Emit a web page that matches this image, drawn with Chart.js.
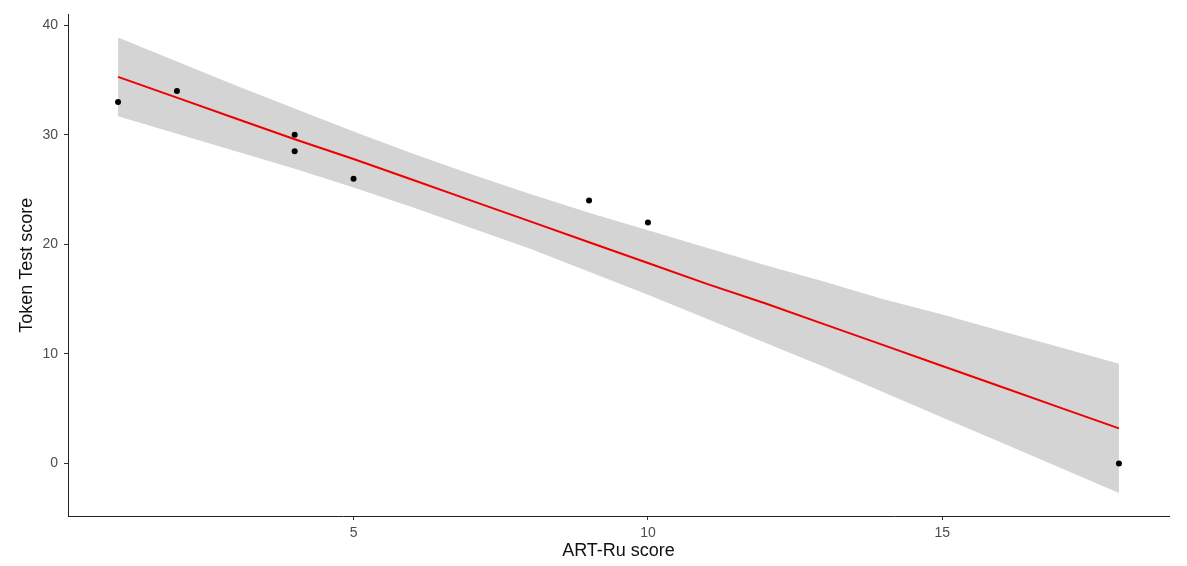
<!DOCTYPE html>
<html>
<head>
<meta charset="utf-8">
<script src="https://cdn.jsdelivr.net/npm/chart.js@4"></script>
<style>
  body { margin: 0; background: #fff; }
  canvas { display: block; }
</style>
</head>
<body>
<canvas id="myChart" width="1187" height="566"></canvas>
<script>
// observed scores
const artRu = [1, 2, 4, 4, 5, 9, 10, 18];
const tokenTest = [33, 34, 30, 28.5, 26, 24, 22, 0];

// fitted line and its band
const fitX = [1, 2, 3, 4, 5, 6, 7, 8, 9, 10, 11, 12, 13, 14, 15, 16, 17, 18];
const fitY = [35.3, 33.4, 31.5, 29.6, 27.8, 25.9, 24.0, 22.1, 20.2, 18.3, 16.4, 14.6, 12.7, 10.8, 8.9, 7.0, 5.1, 3.2];
const bandLow = [31.7, 30.1, 28.5, 26.9, 25.2, 23.4, 21.5, 19.6, 17.5, 15.4, 13.2, 11.0, 8.8, 6.5, 4.2, 1.9, -0.4, -2.7];
const bandHigh = [38.9, 36.7, 34.5, 32.4, 30.3, 28.3, 26.4, 24.6, 22.9, 21.3, 19.7, 18.1, 16.6, 15.0, 13.6, 12.1, 10.6, 9.1];

// tick labels
const xTicks = [5, 10, 15];
const yTicks = [0, 10, 20, 30, 40];

function toPoints(xs, ys) {
    return xs.map((x, i) => ({ x: x, y: ys[i] }));
}

const tickFont = { family: 'Liberation Sans', size: 14 };
const titleFont = { family: 'Liberation Sans', size: 18 };

const ctx = document.getElementById('myChart');

new Chart(ctx, {
    type: 'scatter',
    data: {
        datasets: [
            {
                label: 'points',
                data: toPoints(artRu, tokenTest),
                backgroundColor: '#000',
                borderColor: '#000',
                pointRadius: 3,
                pointBorderWidth: 0
            },
            {
                label: 'fit',
                type: 'line',
                data: toPoints(fitX, fitY),
                borderColor: '#ee0000',
                borderWidth: 2,
                pointRadius: 0,
                fill: false
            },
            {
                label: 'upper',
                type: 'line',
                data: toPoints(fitX, bandHigh),
                borderWidth: 0,
                borderColor: 'rgba(0,0,0,0)',
                backgroundColor: 'rgb(212,212,212)',
                pointRadius: 0,
                fill: '+1'
            },
            {
                label: 'lower',
                type: 'line',
                data: toPoints(fitX, bandLow),
                borderWidth: 0,
                borderColor: 'rgba(0,0,0,0)',
                pointRadius: 0,
                fill: false
            }
        ]
    },
    options: {
        responsive: false,
        animation: false,
        layout: { padding: { top: 12, right: 18, bottom: 0, left: 0 } },
        plugins: {
            legend: { display: false },
            tooltip: { enabled: false }
        },
        scales: {
            x: {
                type: 'linear',
                min: 0.15,
                max: 18.85,
                afterBuildTicks: function(scale) {
                    scale.ticks = xTicks.map(v => ({ value: v }));
                },
                afterFit: function(scale) { scale.height = 50; },
                border: { display: true, color: '#222', width: 1 },
                grid: { drawOnChartArea: false, drawTicks: true, tickLength: 4, color: '#333' },
                ticks: { color: '#4d4d4d', font: tickFont, padding: 5, maxRotation: 0 },
                title: { display: true, text: 'ART-Ru score', color: '#111', font: titleFont, padding: { top: 0, bottom: 4 } }
            },
            y: {
                type: 'linear',
                min: -4.8,
                max: 41.0,
                afterBuildTicks: function(scale) {
                    scale.ticks = yTicks.map(v => ({ value: v }));
                },
                afterFit: function(scale) { scale.width = 68; },
                border: { display: true, color: '#222', width: 1 },
                grid: { drawOnChartArea: false, drawTicks: true, tickLength: 4, color: '#333' },
                ticks: { color: '#4d4d4d', font: tickFont, padding: 6 },
                title: { display: true, text: 'Token Test score', color: '#111', font: titleFont, padding: { top: 16, bottom: 0 } }
            }
        }
    }
});
</script>
</body>
</html>
